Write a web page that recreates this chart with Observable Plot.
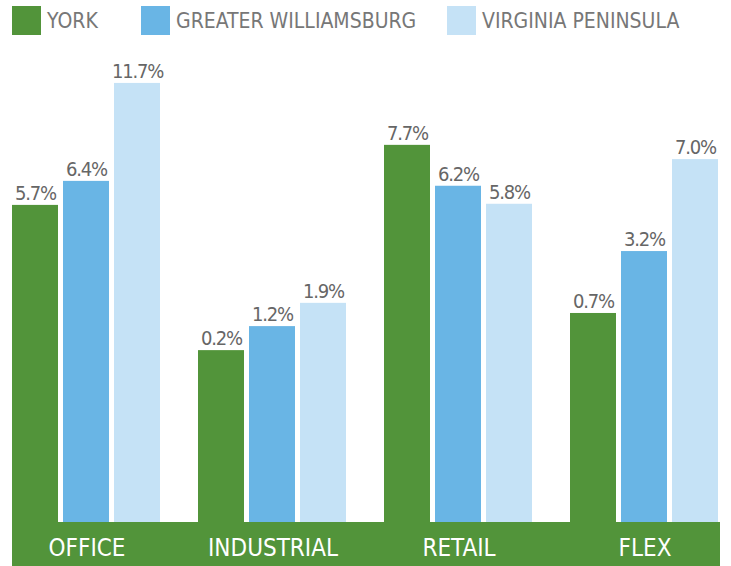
<!DOCTYPE html>
<html>
<head>
<meta charset="utf-8">
<script src="https://cdn.jsdelivr.net/npm/d3@7"></script>
<script src="https://cdn.jsdelivr.net/npm/@observablehq/plot@0.6"></script>
<style>
  body { margin: 0; background: #fff; }
  #chart { position: relative; width: 731px; height: 566px; font-family: "DejaVu Sans Condensed", "Liberation Sans Narrow", sans-serif; }
  #band { position: absolute; left: 12px; width: 708px; top: 522px; height: 44px; background: #52943a; }
  .leg { position: absolute; top: 6px; height: 29px; display: flex; align-items: center; font-size: 21px; color: #777777; white-space: nowrap; }
  .sw { width: 29px; height: 29px; margin-right: 6px; flex: none; }
  #chart svg { position: absolute; left: 0; top: 0; }
  #chart svg g[aria-label="text"] text { letter-spacing: -1.2px; }
  #chart svg g[aria-label="fx-axis tick label"] text { letter-spacing: 0px; }
</style>
</head>
<body>
<div id="chart">
  <div id="band"></div>
</div>
<script>
// ---- data ----
const categories = ["OFFICE", "INDUSTRIAL", "RETAIL", "FLEX"];
const series = ["YORK", "GREATER WILLIAMSBURG", "VIRGINIA PENINSULA"];
const seriesColors = ["#52943a", "#69b5e5", "#c5e2f6"];
// labelled values (%)
const yorkValues = [5.7, 0.2, 7.7, 0.7];
const williamsburgValues = [6.4, 1.2, 6.2, 3.2];
const peninsulaValues = [11.7, 1.9, 5.8, 7.0];
// drawn bar levels (bars in the source are not proportional to labels)
const yorkLevels = [8.45, 4.58, 10.05, 5.57];
const williamsburgLevels = [9.09, 5.22, 8.96, 7.22];
const peninsulaLevels = [11.7, 5.84, 8.48, 9.67];

const valueSets = [yorkValues, williamsburgValues, peninsulaValues];
const levelSets = [yorkLevels, williamsburgLevels, peninsulaLevels];
const rows = categories.flatMap((c, i) => series.map((s, j) => ({
  category: c, series: s, value: valueSets[j][i], level: levelSets[j][i]
})));

// ---- legend ----
const chart = document.getElementById("chart");
const legendLefts = [12, 141, 447];
series.forEach((s, j) => {
  const item = document.createElement("div");
  item.className = "leg";
  item.style.left = legendLefts[j] + "px";
  item.innerHTML = `<div class="sw" style="background:${seriesColors[j]}"></div><span>${s}</span>`;
  chart.appendChild(item);
});

// ---- plot ----
const plot = Plot.plot({
  width: 731,
  height: 566,
  marginTop: 0,
  marginBottom: 44,
  marginLeft: 11,
  marginRight: 11,
  style: { background: "transparent", fontFamily: '"DejaVu Sans Condensed", "Liberation Sans Narrow", sans-serif' },
  fx: { domain: categories, paddingInner: 0.2, paddingOuter: 0, label: null, axis: null },
  x: { domain: series, paddingInner: 0.09, paddingOuter: 0, axis: null },
  y: { domain: [0, 13.91], axis: null },
  color: { domain: series, range: seriesColors },
  marks: [
    Plot.barY(rows, { fx: "category", x: "series", y: "level", fill: "series" }),
    Plot.text(rows, {
      fx: "category", x: "series", y: "level",
      text: d => d.value.toFixed(1) + "%",
      lineAnchor: "bottom", dy: -5.5,
      fontSize: 20, fill: "#666666"
    }),
    Plot.axisFx({ anchor: "bottom", tickSize: 0, tickPadding: 16, fontSize: 24, fill: "white", label: null })
  ]
});
chart.appendChild(plot);
</script>
</body>
</html>
